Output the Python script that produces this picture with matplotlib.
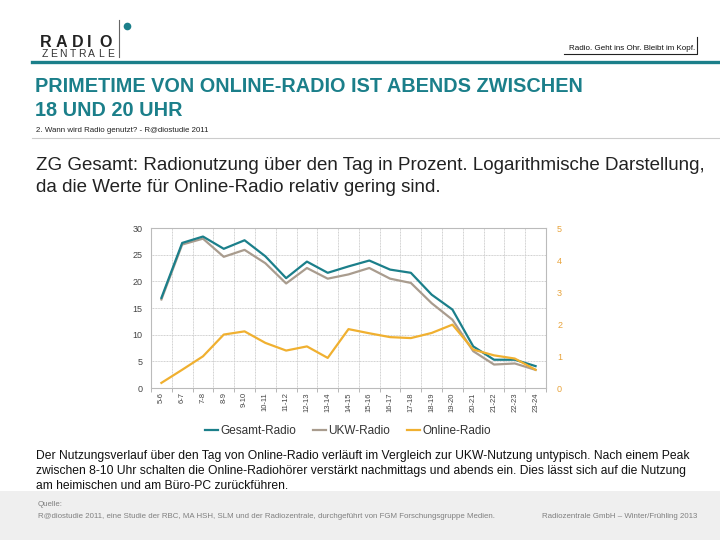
import matplotlib.pyplot as plt
from matplotlib.lines import Line2D
from matplotlib.patches import Rectangle

plt.rcParams['font.family'] = ['Liberation Sans', 'DejaVu Sans']

hours = ["5-6", "6-7", "7-8", "8-9", "9-10", "10-11", "11-12", "12-13", "13-14",
         "14-15", "15-16", "16-17", "17-18", "18-19", "19-20", "20-21", "21-22",
         "22-23", "23-24"]
gesamt = [16.9, 27.2, 28.4, 26.1, 27.7, 24.7, 20.6, 23.7, 21.6, 22.8, 23.9,
          22.2, 21.6, 17.5, 14.7, 7.8, 5.3, 5.3, 4.1]
ukw = [16.6, 26.9, 28.0, 24.6, 25.9, 23.4, 19.6, 22.5, 20.5, 21.3, 22.5,
       20.5, 19.7, 15.9, 12.8, 6.9, 4.4, 4.6, 3.4]
online = [0.16, 0.57, 0.99, 1.67, 1.77, 1.41, 1.17, 1.30, 0.94, 1.84, 1.71,
          1.59, 1.56, 1.72, 1.98, 1.20, 1.02, 0.92, 0.57]

teal = '#1b7f8a'
brown = '#a99c8e'
orange = '#f0b030'

fig = plt.figure(figsize=(7.2, 5.4), dpi=100)
W, H = 720, 540

def fx(x):
    return x / W

def fy(y):
    return 1 - y / H

# header: logo (wide spaced letters)
for ch, cx in zip("RADIO", [46, 61.5, 77.5, 89.5, 106]):
    fig.text(fx(cx), fy(47), ch, fontsize=11.5, fontweight='bold',
             color='#222222', va='baseline', ha='center')
for i, ch in enumerate("ZENTRALE"):
    fig.text(fx(44.5 + i * 9.4), fy(57), ch, fontsize=7.5, color='#333333',
             va='baseline', ha='center')
fig.add_artist(Line2D([fx(119), fx(119)], [fy(20), fy(57)], color='#666666', lw=0.8))
fig.add_artist(Line2D([fx(127)], [fy(26)], marker='o', ms=5.5, color=teal, mec='none'))
fig.add_artist(Line2D([fx(32), fx(720)], [fy(62), fy(62)], color=teal, lw=2.4))

# tagline
fig.text(fx(695), fy(48), "Radio. Geht ins Ohr. Bleibt im Kopf.", fontsize=5.8,
         color='#111111', ha='right', va='center')
fig.add_artist(Line2D([fx(564), fx(697), fx(697)], [fy(54), fy(54), fy(37)],
                      color='#222222', lw=0.8))

# title
fig.text(fx(35), fy(87), "PRIMETIME VON ONLINE-RADIO IST ABENDS ZWISCHEN", fontsize=14.3,
         fontweight='bold', color=teal, ha='left', va='center')
fig.text(fx(35), fy(110), "18 UND 20 UHR", fontsize=14.3,
         fontweight='bold', color=teal, ha='left', va='center')
fig.text(fx(36), fy(131), "2. Wann wird Radio genutzt? - R@diostudie 2011", fontsize=5.7,
         color='#222222', ha='left', va='center')
fig.add_artist(Line2D([fx(32), fx(720)], [fy(138), fy(138)], color='#cccccc', lw=0.8))

fig.text(fx(36), fy(166), "ZG Gesamt: Radionutzung über den Tag in Prozent. Logarithmische Darstellung,",
         fontsize=13.5, color='#222222', ha='left', va='center')
fig.text(fx(36), fy(188), "da die Werte für Online-Radio relativ gering sind.",
         fontsize=13.5, color='#222222', ha='left', va='center')

# chart
ax = fig.add_axes([fx(151), fy(388), (546 - 151) / W, (388 - 228) / H])
x = list(range(len(hours)))
ax.plot(x, gesamt, color=teal, lw=1.6, solid_joinstyle='round', zorder=3)
ax.plot(x, ukw, color=brown, lw=1.6, solid_joinstyle='round', zorder=2)
ax.set_ylim(0, 30)
ax.set_yticks(range(0, 31, 5))
ax.set_xlim(-0.5, len(hours) - 0.5)
ax.set_xticks(x)
ax.set_xticklabels(hours, rotation=90, fontsize=5.5, color='#444444')
ax.set_xticks([i - 0.5 for i in range(len(hours) + 1)], minor=True)
ax.tick_params(axis='x', which='major', length=0, pad=3)
ax.tick_params(axis='x', which='minor', length=3, color='#aaaaaa')
ax.tick_params(axis='y', length=0, labelsize=6.5, labelcolor='#444444', pad=6)
ax.grid(True, axis='y', color='#cfcfcf', lw=0.7, linestyle=(0, (1, 0.6)))
ax.grid(True, axis='x', which='minor', color='#cfcfcf', lw=0.7, linestyle=(0, (1, 0.6)))
for s in ax.spines.values():
    s.set_color('#bbbbbb')
    s.set_linewidth(0.8)

ax2 = ax.twinx()
ax2.plot(x, online, color=orange, lw=1.6, solid_joinstyle='round', zorder=1)
ax2.set_ylim(0, 5)
ax2.set_yticks(range(0, 6))
ax2.tick_params(axis='y', length=0, labelsize=6.5, labelcolor='#e8a33a', pad=8)
for s in ax2.spines.values():
    s.set_visible(False)

handles = [Line2D([], [], color=teal, lw=1.6), Line2D([], [], color=brown, lw=1.6),
           Line2D([], [], color=orange, lw=1.6)]
fig.legend(handles, ["Gesamt-Radio", "UKW-Radio", "Online-Radio"], loc='center',
           bbox_to_anchor=(fx(348), fy(431)), ncol=3, frameon=False, fontsize=8.5,
           handlelength=1.1, handletextpad=0.2, columnspacing=1.4,
           labelcolor='#333333')

# description
desc = ["Der Nutzungsverlauf über den Tag von Online-Radio verläuft im Vergleich zur UKW-Nutzung untypisch. Nach einem Peak",
        "zwischen 8-10 Uhr schalten die Online-Radiohörer verstärkt nachmittags und abends ein. Dies lässt sich auf die Nutzung",
        "am heimischen und am Büro-PC zurückführen."]
for i, line in enumerate(desc):
    fig.text(fx(36), fy(456 + i * 15), line, fontsize=8.75, color='#111111',
             ha='left', va='center')

# footer
fig.add_artist(Rectangle((0, 0), 1, fy(491), transform=fig.transFigure,
                         color='#efefef', ec='none', zorder=0))
fig.text(fx(38), fy(504), "Quelle:", fontsize=5.7, color='#808080', ha='left', va='center')
fig.text(fx(38), fy(516), "R@diostudie 2011, eine Studie der RBC, MA HSH, SLM und der Radiozentrale, "
         "durchgeführt von FGM Forschungsgruppe Medien.", fontsize=5.7, color='#808080',
         ha='left', va='center')
fig.text(fx(697), fy(516), "Radiozentrale GmbH – Winter/Frühling 2013", fontsize=5.7,
         color='#808080', ha='right', va='center')

fig.savefig('out.png', dpi=100)
